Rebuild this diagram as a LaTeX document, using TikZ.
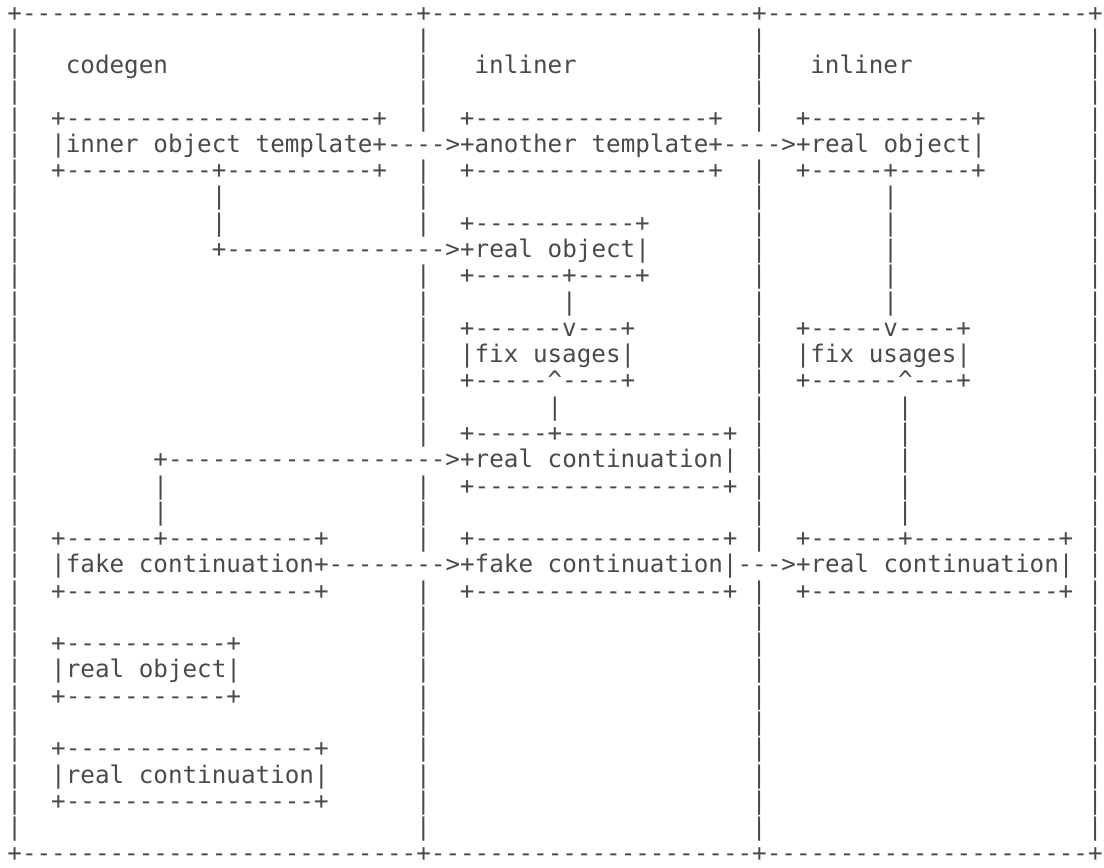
\documentclass[tikz,border=0pt]{standalone}
\usepackage{fontspec}
\setmonofont{DejaVu Sans Mono}
\usetikzlibrary{positioning}
\definecolor{ink}{HTML}{4A4A4A}

\ExplSyntaxOn
\NewDocumentCommand\dashes{m}{\prg_replicate:nn{#1}{-}}
\ExplSyntaxOff

\begin{document}
\begin{tikzpicture}[
          x=7.3pt, y=-13.14pt,
          txt/.style={anchor=base west,inner sep=0pt,text=ink,
                      text height=9.2pt,text depth=2.9pt,
                      font=\ttfamily\fontsize{12.13}{13}\selectfont},
        ]
        \useasboundingbox (-0.48,-0.8) rectangle (75.14,32.23);

        % frame
        \path (0,0) node[txt] (top) {+\dashes{27}+\dashes{22}+\dashes{22}+};
        \path (0,32) node[txt] (bottom) {+\dashes{27}+\dashes{22}+\dashes{22}+};
        \foreach \c in {0,74}
          \foreach \r in {1,...,31}
            \path (\c,\r) node[txt] (bar-\c-\r) {|};
        \foreach \r in {1,2,3,4,6,7,8,10,11,12,13,14,15,16,18,19,20,22,23,24,25,26,27,28,29,30,31}
          \path (28,\r) node[txt] (bar-28-\r) {|};
        \foreach \r in {1,2,3,4,6,7,8,9,10,11,12,13,14,15,16,17,18,19,20,22,23,24,25,26,27,28,29,30,31}
          \path (51,\r) node[txt] (bar-51-\r) {|};

        % codegen
        \path (4,2) node[txt] (codegen) {codegen};
        \path (3,4) node[txt] (tmpl-top) {+\dashes{21}+};
        \path (3,5) node[txt] (tmpl) {|inner object template+\dashes{4}>+another template+\dashes{4}>+real object|};
        \path (3,6) node[txt] (tmpl-bot) {+\dashes{10}+\dashes{10}+};
        \foreach \r in {7,8}
          \path (14,\r) node[txt] (tmpl-link-\r) {|};
        \path (14,9) node[txt] (obj) {+\dashes{15}>+real object|};
        \path (10,17) node[txt] (cont) {+\dashes{19}>+real continuation|};
        \foreach \r in {18,19}
          \path (10,\r) node[txt] (fake-link-\r) {|};
        \path (3,20) node[txt] (fake-top) {+\dashes{6}+\dashes{10}+};
        \path (3,21) node[txt] (fake) {|fake continuation+\dashes{8}>+fake continuation|\dashes{3}>+real continuation|};
        \path (3,22) node[txt] (fake-bot) {+\dashes{17}+};
        \path (3,24) node[txt] (robj-top) {+\dashes{11}+};
        \path (3,25) node[txt] (robj) {|real object|};
        \path (3,26) node[txt] (robj-bot) {+\dashes{11}+};
        \path (3,28) node[txt] (rcont-top) {+\dashes{17}+};
        \path (3,29) node[txt] (rcont) {|real continuation|};
        \path (3,30) node[txt] (rcont-bot) {+\dashes{17}+};

        % first inliner
        \path (32,2) node[txt] (inl-a) {inliner};
        \path (31,4) node[txt] (anot-top) {+\dashes{16}+};
        \path (31,6) node[txt] (anot-bot) {+\dashes{16}+};
        \path (31,8) node[txt] (obj-a-top) {+\dashes{11}+};
        \path (31,10) node[txt] (obj-a-bot) {+\dashes{6}+\dashes{4}+};
        \path (38,11) node[txt] (obj-a-link) {|};
        \path (31,12) node[txt] (fix-a-top) {+\dashes{6}v\dashes{3}+};
        \path (31,13) node[txt] (fix-a) {|fix usages|};
        \path (31,14) node[txt] (fix-a-bot) {+\dashes{5}\textasciicircum\dashes{4}+};
        \path (37,15) node[txt] (fix-a-link) {|};
        \path (31,16) node[txt] (cont-a-top) {+\dashes{5}+\dashes{11}+};
        \path (31,18) node[txt] (cont-a-bot) {+\dashes{17}+};
        \path (31,20) node[txt] (fake-a-top) {+\dashes{17}+};
        \path (31,22) node[txt] (fake-a-bot) {+\dashes{17}+};

        % second inliner
        \path (55,2) node[txt] (inl-b) {inliner};
        \path (54,4) node[txt] (obj-b-top) {+\dashes{11}+};
        \path (54,6) node[txt] (obj-b-bot) {+\dashes{5}+\dashes{5}+};
        \foreach \r in {7,...,11}
          \path (60,\r) node[txt] (obj-b-link-\r) {|};
        \path (54,12) node[txt] (fix-b-top) {+\dashes{5}v\dashes{4}+};
        \path (54,13) node[txt] (fix-b) {|fix usages|};
        \path (54,14) node[txt] (fix-b-bot) {+\dashes{6}\textasciicircum\dashes{3}+};
        \foreach \r in {15,...,19}
          \path (61,\r) node[txt] (fix-b-link-\r) {|};
        \path (54,20) node[txt] (cont-b-top) {+\dashes{6}+\dashes{10}+};
        \path (54,22) node[txt] (cont-b-bot) {+\dashes{17}+};

      \end{tikzpicture}
\end{document}
